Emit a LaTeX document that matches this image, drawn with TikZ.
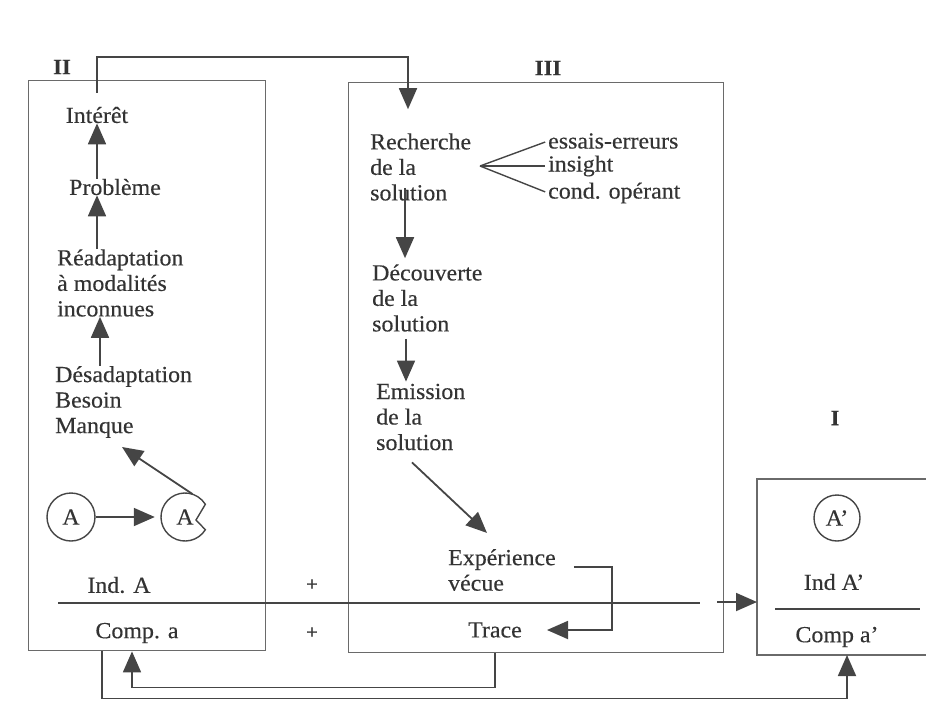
\documentclass[tikz,border=0pt]{standalone}
\usepackage{fontspec}
\setmainfont{Liberation Serif}[FakeStretch=1.04,FakeBold=0.35]
\usetikzlibrary{arrows.meta,calc}
\definecolor{ink}{HTML}{333333}
\definecolor{lin}{HTML}{454545}
\definecolor{frame}{HTML}{6A6A6A}
\begin{document}
\begin{tikzpicture}[x=1pt,y=-1pt,
  txt/.style={font=\fontsize{23}{25.5}\selectfont, text=ink, inner sep=0pt, align=left},
  frm/.style={draw=frame, line width=1.4pt, inner sep=0pt},
  con/.style={draw=lin, line width=1.8pt},
  arr/.style={con, -{Triangle[length=21pt,width=18pt]}},
  roman/.style={font=\fontsize{22}{24}\selectfont\bfseries, text=ink},
  circ/.style={txt, circle, draw=lin, line width=1.4pt, minimum size=48pt, inner sep=0pt},
  plus/.style={font=\fontsize{20}{20}\selectfont, text=ink, inner sep=0pt}]
\useasboundingbox (0,0) rectangle (926,702);

% frames
\node[frm, minimum width=237pt, minimum height=570pt, anchor=north west] (boxII) at (28,80) {};
\node[frm, minimum width=375pt, minimum height=570pt, anchor=north west] (boxIII) at (348,82) {};
\coordinate (Itl) at (757,479);
\coordinate (Ibl) at (757,655);
\draw[frm] (926,479) -- (Itl) -- (Ibl) -- (926,655);

% roman labels
\node[roman] (lII) at (62,67) {II};
\node[roman] (lIII) at (548,68) {III};
\node[roman] (lI) at (835,418) {I};

% box II
\node[txt] (interet) at (97,115) {Intérêt};
\node[txt] (probleme) at (115,187) {Problème};
\node[txt, anchor=west] (readapt) at (57,283) {Réadaptation\\à modalités\\inconnues};
\node[txt, anchor=west] (desadapt) at (55,402) {Désadaptation\\Besoin\\Manque};
\node[circ] (A) at (71,517) {A};
\node[txt, circle, minimum size=48pt] (pac) at (185,517) {A};
\draw[draw=lin, line width=1.4pt] (pac.center) ++(32:24) arc[start angle=32, end angle=328, radius=24] -- ($(pac.center)+(11,3)$) -- cycle;
\coordinate (mtip) at (122,447);
\node[txt] (indA) at (119,585) {Ind. A};
\node[txt] (compA) at (137,633) {Comp. a};
\node[plus] (p1) at (312,585) {+};
\node[plus] (p2) at (312,633) {+};

\draw[arr] (interet |- probleme.north) -- (interet.south);
\draw[arr] (interet |- readapt.north) -- (interet |- probleme.south);
\draw[arr] ($(interet |- desadapt.north)+(3,0)$) -- ($(interet |- readapt.south)+(3,0)$);
\draw[arr] (pac.72) -- (mtip);
\draw[arr, shorten >=6pt] (A) -- (pac);

% separator line
\coordinate (h0) at (58,603);
\coordinate (h1) at (700,603);
\coordinate (h2) at (717,602);
\draw[con] (h0) -- (h1);
\draw[arr] (h2) -- (Itl |- h2);

% box III
\node[txt, anchor=west] (rech) at (370,167) {Recherche\\de la\\solution};
\node[txt, anchor=west] (ess) at (548,141) {essais-erreurs};
\node[txt, anchor=west] (ins) at (548,166) {insight};
\node[txt, anchor=west] (cond) at (548,193) {cond. opérant};
\coordinate (fk) at (480,166);
\draw[con, line width=1.4pt, shorten >=3pt] (fk) -- (ess.west);
\draw[con, line width=1.4pt, shorten >=3pt] (fk) -- (ins.west);
\draw[con, line width=1.4pt, shorten >=3pt] (fk) -- (cond.west);
\node[txt, anchor=west] (dec) at (372,298) {Découverte\\de la\\solution};
\node[txt, anchor=west] (emi) at (376,417) {Emission\\de la\\solution};
\node[txt, anchor=west] (exp) at (448,570) {Expérience\\vécue};
\node[txt] (trace) at (495,630) {Trace};

\coordinate (ax) at (405,0);
\draw[arr] ($(ax |- rech.south)+(0,-13)$) -- ($(ax |- dec.north)+(0,-6)$);
\draw[arr] ($(ax |- dec.south)+(1,7)$) -- ($(ax |- emi.north)+(1,-2)$);
\draw[arr] ($(emi.south west)+(36,12)$) -- ($(exp.north west)+(39,-16)$);
\draw[arr] ($(exp.east)+(18,-3)$) -- ++(38,0) |- ($(trace.east)+(25,0)$);

% intérêt -> recherche
\coordinate (top) at (408,57);
\draw[arr, shorten <=14pt] (interet.north) |- (top) -- ($(top |- rech.north)+(0,-24)$);

% box I
\node[circ, minimum size=46pt] (Ap) at (837,518) {A'};
\node[txt] (indAp) at (834,582) {Ind A'};
\coordinate (i0) at (775,609);
\coordinate (i1) at (920,609);
\draw[con] (i0) -- (i1);
\node[txt] (compp) at (837,637) {Comp a'};

% bottom connectors
\draw[arr] (trace |- boxIII.south) -- ++(0,34) -| ($(compA.south |- boxII.south)+(-5,0)$);
\draw[arr] ($(compA.south |- boxII.south)+(-35,0)$) -- ++(0,47) -| ($(compp.south |- Ibl)+(10,0)$);
\end{tikzpicture}
\end{document}
